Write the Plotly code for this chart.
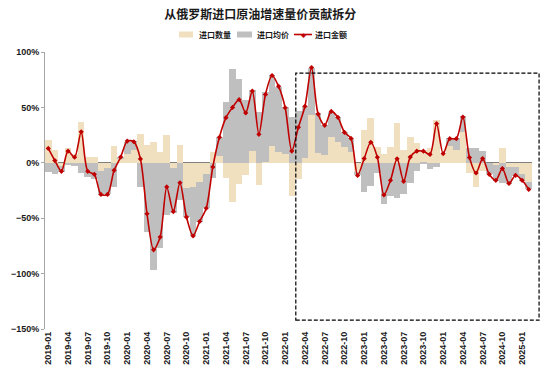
import plotly.graph_objects as go

months = [f"{y}-{m:02d}" for y in range(2019, 2026) for m in range(1, 13)][:74]

qty = [21, 12, -3, 13, 8, 37, 5, 5, -7, -5,
       15, 4, 8, 12, 26, 16, 19, 10, 25, -5,
       16, -23, -22, -17, -10, 10, 6, -14, -35, -19,
       -11, 11, -20, 1, 15, 10, 8, -30, -15, 4,
       43, 9, 7, 23, 19, 14, 10, -8, 30, 40,
       14, 8, 14, 36, 12, 23, 18, 12, 13, 39,
       8, 15, 12, 28, -9, -22, -7, 0, -2, 13,
       -4, -4, -10, -17]
price = [-8, -10, -5, -2, -3, -9, -13, -15, -22, -23,
         -22, 1, 11, 8, -22, -62, -97, -77, -47, -40,
         -34, -26, -44, -36, -31, -14, 17, 55, 85, 76,
         57, 55, 46, 63, 64, 58, 42, 41, 47, 47,
         43, 36, 27, 23, 22, 14, 12, -3, -26, -21,
         -9, -37, -30, -32, -28, -18, -7, -1, -6, -4,
         0, 7, 10, 14, 13, 13, 11, -10, -14, -18,
         -15, -8, -6, -7]
amount = [13, 2, -7.7, 10.6, 5, 28, -7.7, -10.4, -28.5, -28.5,
          -6.8, 5.2, 19.6, 19, 3.5, -46, -78.5, -67, -21.8, -44,
          -18, -49, -66, -53, -41, -3.8, 23, 40.7, 50, 57,
          45, 64.7, 25.7, 61.7, 78.8, 69, 49.7, 10.6, 32, 51,
          86, 44, 33.8, 46.4, 41, 27.5, 22, -11.4, 3.8, 18.5,
          5, -29, -15.8, 3.6, -16.7, 5.2, 10.5, 10.5, 7.6, 35.3,
          8.3, 21.8, 21.8, 41.3, 4.7, -9.2, 3.8, -10.4, -15.8, -5.2,
          -18.7, -11.3, -15.8, -24]

tick_labels = months[::3]
series_names = ["进口数量", "进口均价", "进口金额"]
colors = ["#F0E0BF", "#BFBFBF", "#C00000"]

qty_f = [v / 100 for v in qty]
price_f = [v / 100 for v in price]
amount_f = [v / 100 for v in amount]

fig = go.Figure()
fig.add_trace(go.Bar(x=months, y=qty_f, name=series_names[0],
                     marker=dict(color=colors[0], line=dict(width=0))))
fig.add_trace(go.Bar(x=months, y=price_f, name=series_names[1],
                     marker=dict(color=colors[1], line=dict(width=0))))
fig.add_trace(go.Scatter(x=months, y=amount_f, name=series_names[2], mode="lines+markers",
                         line=dict(color=colors[2], width=1.6, shape="spline", smoothing=0.8),
                         marker=dict(symbol="diamond", size=4, color=colors[2])))

# dashed highlight box
fig.add_shape(type="rect", xref="paper", yref="y", x0=0.515, x1=1.0145, y0=-1.42, y1=0.81,
              line=dict(color="#000000", width=1.2, dash="4px,2px"), fillcolor="rgba(0,0,0,0)", layer="above")

# custom legend
W, H = 550, 374
cjk = "Noto Sans CJK SC, sans-serif"
ly = (374 - 45 - 34.5) / 277
for (x0, x1, tx), name, col in zip([(179, 193, 197), (237, 252, 255), (294, 312, 313)], series_names, colors):
    if name == "进口金额":
        fig.add_shape(type="line", xref="paper", yref="paper",
                      x0=(x0 - 45) / 487, x1=(x1 - 45) / 487, y0=ly, y1=ly,
                      line=dict(color=col, width=1.6))
        fig.add_annotation(xref="paper", yref="paper", x=((x0 + x1) / 2 - 45) / 487,
                           y=ly, text="◆", showarrow=False,
                           font=dict(size=5, color=col), xanchor="center", yanchor="middle")
    else:
        fig.add_shape(type="rect", xref="paper", yref="paper",
                      x0=(x0 - 45) / 487, x1=(x1 - 45) / 487,
                      y0=(374 - 45 - 37.5) / 277, y1=(374 - 45 - 31.5) / 277,
                      line=dict(width=0), fillcolor=col)
    fig.add_annotation(xref="paper", yref="paper", x=(tx - 45) / 487, y=ly,
                       text=f"<b>{name}</b>", showarrow=False, xanchor="left", yanchor="middle",
                       font=dict(family=cjk, size=8, color="#1a1a1a"))

font_family = "Liberation Sans, Noto Sans CJK SC, sans-serif"
fig.update_layout(
    width=W, height=H,
    margin=dict(l=45, r=18, t=52, b=45, autoexpand=False),
    paper_bgcolor="white", plot_bgcolor="white",
    barmode="relative", bargap=0,
    title=dict(text="<b>从俄罗斯进口原油增速量价贡献拆分</b>", x=0.473, xanchor="center",
               y=1 - 15 / H, yanchor="middle",
               font=dict(family=cjk, size=12, color="#1a1a1a")),
    showlegend=False,
    font=dict(family=font_family, size=9, color="#1a1a1a"),
    xaxis2=dict(overlaying="x", anchor="free", position=0.6, range=[-0.5, 73.5],
                tickmode="array", tickvals=[i - 0.5 for i in range(0, 74, 3)],
                ticks="outside", ticklen=3, tickcolor="#808080", showticklabels=False,
                showgrid=False, zeroline=False, showline=False),
)
fig.layout.xaxis.update(type="category", range=[-0.5, 73.5], tickmode="array", tickvals=tick_labels,
                        ticktext=tick_labels, tickangle=-90, showline=False, ticks="",
                        tickfont=dict(size=9, family=font_family, weight="bold"), showgrid=False,
                        automargin=False)
fig.update_yaxes(range=[-1.5, 1.0], dtick=0.5, tickformat=".0%", showgrid=False,
                 zeroline=True, zerolinecolor="#808080", zerolinewidth=1,
                 showline=True, linecolor="#A6A6A6", linewidth=1, ticks="outside", ticklen=3,
                 tickcolor="#A6A6A6", tickfont=dict(size=9, family=font_family, weight="bold"),
                 automargin=False)

fig.write_html("out.html", config={"displayModeBar": False},
               post_script="document.body.style.margin='0px';document.body.style.padding='0px';")
